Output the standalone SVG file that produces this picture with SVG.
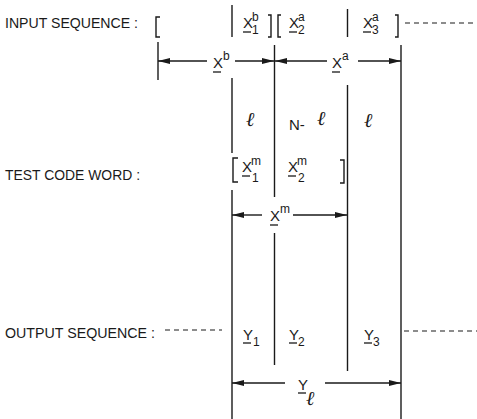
<svg xmlns="http://www.w3.org/2000/svg" width="477" height="419" viewBox="0 0 477 419">
<style>
  .lbl { font-family: "Liberation Sans", "DejaVu Sans", sans-serif; font-size: 15.5px; fill: #1a1a1a; }
  .v { font-family: "Liberation Sans", "DejaVu Sans", sans-serif; font-size: 15px; fill: #1a1a1a; }
  .s { font-family: "Liberation Sans", "DejaVu Sans", sans-serif; font-size: 12px; fill: #1a1a1a; }
  .ell { font-family: "DejaVu Serif", "Liberation Serif", serif; font-style: italic; font-size: 20px; fill: #1a1a1a; }
  .ln { stroke: #1a1a1a; stroke-width: 1.4; fill: none; }
  .ul { stroke: #1a1a1a; stroke-width: 1.3; fill: none; }
  .dash { stroke: #1a1a1a; stroke-width: 1.2; stroke-dasharray: 5 4; fill: none; }
  .arr { stroke: #1a1a1a; stroke-width: 1.4; fill: none; marker-end: url(#ah); }
</style>
<defs>
  <marker id="ah" viewBox="0 0 12 6" refX="12" refY="3" markerWidth="12" markerHeight="6" orient="auto" markerUnits="userSpaceOnUse">
    <path d="M0,0 L12,3 L0,6 Z" fill="#1a1a1a"/>
  </marker>
</defs>
<rect width="477" height="419" fill="#ffffff"/>

<g id="row-labels">
  <text class="lbl" x="5" y="28" textLength="133" lengthAdjust="spacingAndGlyphs">INPUT SEQUENCE :</text>
  <text class="lbl" x="5" y="180" textLength="135" lengthAdjust="spacingAndGlyphs">TEST CODE WORD :</text>
  <text class="lbl" x="5" y="338" textLength="150" lengthAdjust="spacingAndGlyphs">OUTPUT SEQUENCE :</text>
</g>

<g id="connectors">
  <path class="ln" d="M232,5 V37 M232,78 V153 M232,190 V419"/>
  <path class="ln" d="M158,42 V80"/>
  <path class="ln" d="M274.5,45 V197 M274.5,233 V365"/>
  <path class="ln" d="M347.5,9 V37 M347.5,85 V371"/>
  <path class="ln" d="M401,45 V419"/>
  <path class="dash" d="M405,23 H477"/>
  <path class="dash" d="M165,330 H222"/>
  <path class="dash" d="M404,331 H477"/>
  <path class="arr" d="M207,61 H158"/>
  <path class="arr" d="M235,61 H274"/>
  <path class="arr" d="M327,61 H275"/>
  <path class="arr" d="M358,61 H401"/>
  <path class="arr" d="M262,215 H232"/>
  <path class="arr" d="M293,215 H347"/>
  <path class="arr" d="M285,383 H232"/>
  <path class="arr" d="M325,383 H401"/>
</g>

<g id="input-sequence">
  <path class="ln" d="M160,17 H156 V37 H160"/>
  <g id="x1b">
    <text class="v" x="243" y="28">X</text><path class="ul" d="M243,32 H251"/>
    <text class="s" x="252" y="21">b</text><text class="s" x="252" y="34">1</text>
  </g>
  <path class="ln" d="M268,15 H271 V37 H268 M281,15 H278 V37 H281"/>
  <g id="x2a">
    <text class="v" x="289" y="28">X</text><path class="ul" d="M289,32 H297"/>
    <text class="s" x="298" y="21">a</text><text class="s" x="298" y="34">2</text>
  </g>
  <g id="x3a">
    <text class="v" x="363" y="28">X</text><path class="ul" d="M363,32 H371"/>
    <text class="s" x="372" y="21">a</text><text class="s" x="372" y="34">3</text>
  </g>
  <path class="ln" d="M395,15 H398 V37 H395"/>
</g>

<g id="dim-xb">
  <text class="v" x="213" y="68">X</text><path class="ul" d="M213,72 H221"/>
  <text class="s" x="223" y="60">b</text>
</g>
<g id="dim-xa">
  <text class="v" x="332" y="68">X</text><path class="ul" d="M332,72 H340"/>
  <text class="s" x="342" y="60">a</text>
</g>

<g id="lengths">
  <text class="ell" x="246" y="126">ℓ</text>
  <text class="v" x="289" y="130">N-</text>
  <text class="ell" x="317" y="125">ℓ</text>
  <text class="ell" x="364" y="127">ℓ</text>
</g>

<g id="test-code-word">
  <path class="ln" d="M238,158 H233 V182 H238"/>
  <g id="x1m">
    <text class="v" x="242" y="172">X</text><path class="ul" d="M242,176 H250"/>
    <text class="s" x="251" y="165">m</text><text class="s" x="252" y="182">1</text>
  </g>
  <g id="x2m">
    <text class="v" x="288" y="172">X</text><path class="ul" d="M288,176 H296"/>
    <text class="s" x="297" y="165">m</text><text class="s" x="298" y="182">2</text>
  </g>
  <path class="ln" d="M340,160 H344 V183 H340"/>
</g>

<g id="dim-xm">
  <text class="v" x="270" y="221">X</text><path class="ul" d="M270,225 H278"/>
  <text class="s" x="280" y="213">m</text>
</g>

<g id="output-sequence">
  <g id="y1">
    <text class="v" x="243" y="340">Y</text><path class="ul" d="M243,343 H251"/>
    <text class="s" x="253" y="346">1</text>
  </g>
  <g id="y2">
    <text class="v" x="289" y="340">Y</text><path class="ul" d="M289,343 H297"/>
    <text class="s" x="298" y="346">2</text>
  </g>
  <g id="y3">
    <text class="v" x="364" y="340">Y</text><path class="ul" d="M364,343 H372"/>
    <text class="s" x="373" y="346">3</text>
  </g>
</g>

<g id="dim-yl">
  <text class="v" x="298" y="390">Y</text><path class="ul" d="M298,393 H306"/>
  <text class="ell" x="306" y="405">ℓ</text>
</g>
</svg>
